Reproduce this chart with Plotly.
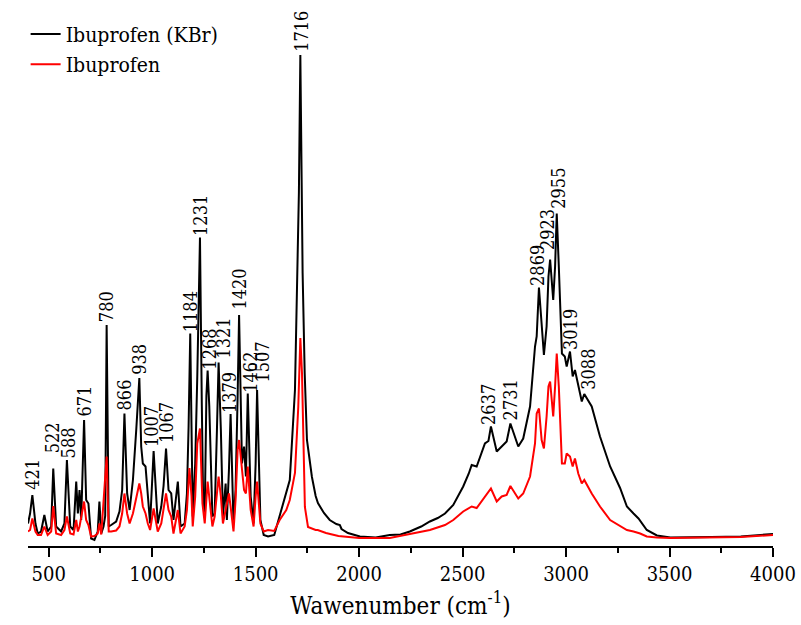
import numpy as np
import plotly.graph_objects as go

# Wavenumber (cm-1) / intensity pairs for the KBr pellet spectrum
kbr_wn = [400, 410, 421, 436, 447, 463, 479, 495, 512, 522, 536, 560, 576, 588, 604, 620,
          633, 641, 649, 657, 671, 681, 692, 705, 721, 737, 745, 754, 765, 773, 780, 790,
          802, 826, 842, 855, 866, 879, 891, 907, 923, 938, 947, 955, 968, 979, 990, 1007,
          1027, 1044, 1055, 1067, 1079, 1092, 1103, 1124, 1137, 1157, 1168, 1176, 1184, 1196,
          1208, 1218, 1231, 1240, 1246, 1254, 1262, 1268, 1276, 1291, 1302, 1313, 1321, 1332,
          1342, 1355, 1361, 1371, 1379, 1393, 1403, 1413, 1420, 1434, 1444, 1453, 1462, 1476,
          1490, 1500, 1507, 1523, 1539, 1560, 1590, 1620, 1665, 1690, 1700, 1709, 1716, 1721,
          1727, 1737, 1748, 1772, 1790, 1801, 1812, 1830, 1858, 1890, 1907, 1915, 1946, 2004,
          2080, 2148, 2200, 2245, 2300, 2342, 2380, 2415, 2455, 2503, 2530, 2544, 2568, 2590,
          2608, 2625, 2637, 2665, 2689, 2713, 2731, 2769, 2793, 2826, 2850, 2858, 2869, 2882,
          2893, 2906, 2915, 2923, 2938, 2947, 2955, 2965, 2974, 2980, 2994, 3003, 3019, 3032,
          3043, 3059, 3076, 3088, 3124, 3164, 3213, 3261, 3294, 3326, 3350, 3390, 3439, 3504,
          3600, 3700, 3844, 3950, 4000]
kbr_int = [4.5, 6.5, 10.2, 4.5, 2.5, 2.9, 6.2, 2.9, 3.9, 15.5, 3.9, 2.9, 4.5, 17.2, 3.9, 3.2,
           12.9, 6.5, 11.2, 5.2, 25.2, 9.2, 8.5, 1.5, 1.2, 2.9, 8.9, 2.5, 3.9, 6.0, 44.2, 3.9,
           4.2, 4.9, 6.9, 11.2, 26.5, 10.5, 7.2, 13.2, 23.2, 33.6, 19.9, 16.5, 15.9, 9.2, 4.5, 19.0,
           4.5, 7.9, 12.0, 19.5, 11.2, 10.5, 5.2, 12.9, 3.9, 4.5, 10.5, 23.9, 42.5, 5.9,
           16.5, 33.9, 61.7, 28.0, 9.9, 6.5, 30.0, 35.1, 28.0, 5.9, 6.5, 23.2, 36.7, 23.2,
           5.9, 12.5, 5.2, 15.2, 26.4, 4.5, 11.2, 29.9, 46.2, 16.5, 19.9, 13.9, 30.5, 9.9,
           4.5, 16.5, 31.2, 5.2, 2.2, 1.9, 2.2, 6.6, 13.2, 31.2, 54.6, 70.6, 98.2, 81.2,
           54.6, 34.6, 21.2, 13.8, 10.0, 8.6, 7.8, 6.6, 5.2, 4.4, 4.2, 3.4, 2.6, 1.9,
           1.7, 2.2, 2.3, 2.9, 3.9, 4.9, 5.6, 6.5, 8.2, 11.9, 14.5, 16.2, 15.9, 18.5,
           20.5, 21.0, 23.9, 18.9, 19.9, 20.9, 24.5, 19.9, 21.5, 27.9, 39.9, 41.9, 51.7, 43.2,
           38.2, 43.9, 53.9, 57.3, 49.2, 55.9, 66.5, 55.9, 43.9, 38.5, 37.9, 35.9, 38.9, 33.9,
           35.2, 31.9, 28.9, 30.4, 27.9, 21.9, 15.9, 11.6, 7.9, 6.5, 5.5, 3.2, 2.1, 1.7,
           1.7, 1.8, 1.9, 2.2, 2.4]

# Wavenumber (cm-1) / intensity pairs for the neat ibuprofen spectrum
ibu_wn = [400, 410, 421, 436, 447, 463, 479, 495, 512, 522, 536, 560, 576, 588, 604, 620,
          633, 641, 649, 671, 681, 692, 705, 721, 737, 745, 754, 780, 790, 802, 826, 842,
          855, 866, 879, 891, 907, 923, 938, 947, 955, 968, 979, 990, 1007, 1027, 1044, 1067,
          1079, 1092, 1103, 1124, 1137, 1157, 1168, 1180, 1190, 1196, 1208, 1218, 1231, 1243,
          1254, 1268, 1291, 1302, 1321, 1332, 1342, 1355, 1371, 1379, 1393, 1403, 1413, 1420,
          1434, 1444, 1453, 1462, 1476, 1490, 1500, 1507, 1523, 1539, 1560, 1590, 1616, 1648,
          1665, 1690, 1706, 1713, 1716, 1724, 1731, 1738, 1753, 1790, 1800, 1840, 1900, 2000,
          2148, 2245, 2342, 2415, 2455, 2503, 2544, 2568, 2608, 2637, 2665, 2689, 2713, 2731,
          2769, 2793, 2826, 2850, 2858, 2869, 2882, 2893, 2906, 2915, 2923, 2938, 2947, 2955,
          2965, 2974, 2980, 2994, 3003, 3019, 3032, 3043, 3059, 3076, 3088, 3124, 3164, 3213,
          3261, 3294, 3326, 3358, 3390, 3439, 3504, 3844, 4000]
ibu_int = [2.9, 3.2, 5.5, 2.9, 2.2, 2.2, 3.9, 2.2, 2.9, 8.0, 2.5, 2.2, 3.2, 5.9, 2.5, 2.3,
           5.2, 2.9, 3.9, 8.9, 5.2, 4.2, 1.9, 2.0, 2.5, 4.5, 2.3, 17.9, 2.9, 2.9, 3.1, 3.9,
           6.5, 10.5, 6.5, 4.5, 6.5, 9.9, 12.5, 10.5, 7.9, 6.5, 4.5, 3.2, 7.5, 2.9, 4.5, 10.5,
           7.2, 5.9, 2.5, 7.2, 2.5, 3.9, 7.2, 15.6, 10.0, 3.9, 9.9, 20.5, 23.5, 8.5,
           4.5, 12.9, 3.9, 5.9, 13.9, 9.9, 4.5, 7.2, 10.5, 7.9, 2.9, 9.2, 19.2, 21.2,
           14.5, 11.2, 10.5, 15.9, 7.2, 3.9, 9.9, 12.9, 4.5, 2.9, 3.2, 3.0, 5.2, 7.2,
           9.2, 14.6, 27.8, 37.2, 41.6, 34.6, 21.2, 7.8, 3.8, 3.2, 3.2, 2.6, 2.0, 1.6,
           1.6, 2.4, 3.2, 4.2, 5.2, 6.9, 7.9, 7.6, 9.9, 11.5, 8.9, 9.9, 10.2, 12.0,
           9.5, 10.5, 13.9, 20.5, 26.5, 27.5, 21.2, 19.5, 25.9, 31.9, 32.9, 25.9, 31.9, 38.5,
           31.9, 21.2, 16.5, 16.5, 18.5, 17.9, 15.9, 17.5, 14.5, 12.5, 13.2, 10.5, 7.9, 5.2,
           4.0, 3.2, 2.9, 2.5, 1.9, 1.7, 1.6, 1.8, 2.2]

# Assigned band positions (cm-1) and label offsets in px (dx, gap above the band)
band_wn = [421, 522, 588, 671, 780, 866, 938, 1007, 1067, 1184, 1231, 1268, 1321, 1379,
           1420, 1462, 1507, 1716, 2637, 2731, 2869, 2923, 2955, 3019, 3088]
band_dx = [0, -1, 2, 0, 0, 0, 0, -2, 0, 0, 0, 1, 4, -1, 0, 2, 5, 1, -3, 0, -2, -3, 1, 0, 4]
band_gap = [4, 14, 1, 2, 2, 2, 2, 3, 4, 0, 1, 0, 3, 0, 4, 0, 6, 2, 1, 2, 1, 8, 4, 1, 3]

SERIF = "DejaVu Serif Condensed, DejaVu Serif"

fig = go.Figure()
fig.add_trace(go.Scatter(x=kbr_wn, y=kbr_int, mode="lines", name="Ibuprofen (KBr)",
                         line=dict(color="black", width=2)))
fig.add_trace(go.Scatter(x=ibu_wn, y=ibu_int, mode="lines", name="Ibuprofen",
                         line=dict(color="#ff0000", width=2)))

band_int = np.interp(band_wn, kbr_wn, kbr_int)
for wn, h, dx, gap in zip(band_wn, band_int, band_dx, band_gap):
    fig.add_annotation(x=wn, y=h, text=str(wn), textangle=-90, showarrow=False,
                       xanchor="center", yanchor="bottom", xshift=dx, yshift=gap,
                       font=dict(family=SERIF, size=18, color="black"), borderpad=0)

fig.update_layout(
    width=801, height=625,
    margin=dict(l=28, r=28, t=46, b=79, autoexpand=False),
    paper_bgcolor="white", plot_bgcolor="white",
    font=dict(family=SERIF, color="black"),
    showlegend=True,
    legend=dict(x=0.032, y=0.978, xref="container", yref="container",
                xanchor="left", yanchor="top",
                font=dict(family=SERIF, size=21, color="black"),
                bgcolor="rgba(0,0,0,0)", tracegroupgap=0, itemwidth=30),
    xaxis=dict(range=[400, 4000], showgrid=False, zeroline=False, automargin=False,
               showline=True, linecolor="black", linewidth=1.5, mirror=False,
               ticks="outside", ticklen=9, tickwidth=1.5, tickcolor="black",
               tickvals=[500, 1000, 1500, 2000, 2500, 3000, 3500, 4000],
               minor=dict(ticks="outside", ticklen=5, tickwidth=1.5, tickcolor="black",
                          dtick=250, tick0=250, showgrid=False),
               tickfont=dict(family=SERIF, size=20, color="black"),
               title=dict(text="Wawenumber (cm<sup>-1</sup>)", standoff=12,
                          font=dict(family=SERIF, size=24, color="black"))),
    yaxis=dict(range=[0, 100], visible=False, showgrid=False, zeroline=False,
               automargin=False),
)

fig.write_html("out.html")
